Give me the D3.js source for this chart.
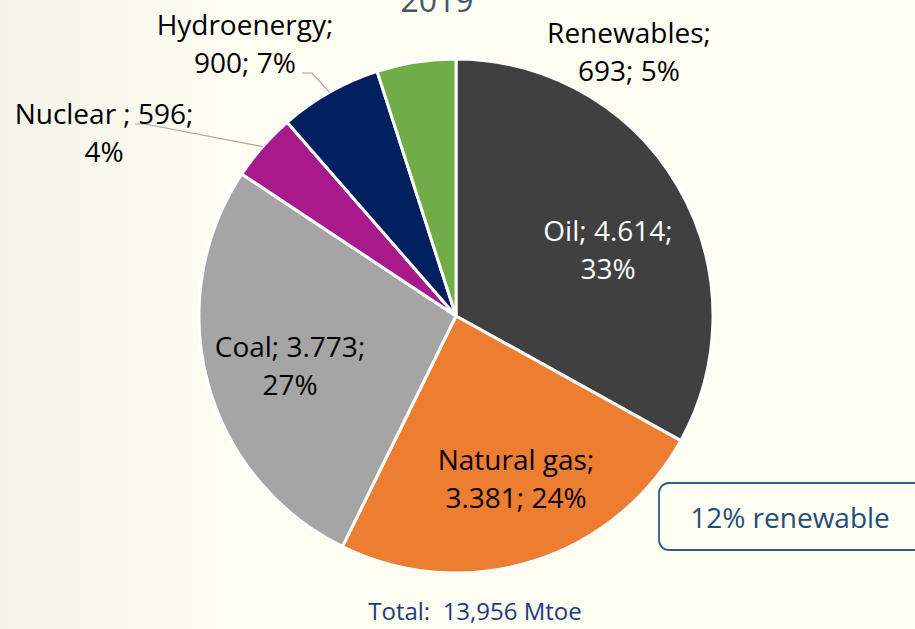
<!DOCTYPE html>
<html>
<head>
<meta charset="utf-8">
<script src="https://cdn.jsdelivr.net/npm/d3@7"></script>
<style>
  html, body { margin: 0; padding: 0; overflow: hidden; }
  text { font-family: "Open Sans", "Noto Sans", sans-serif; }
</style>
</head>
<body>
<div id="chart"></div>
<script>
// data (Mtoe, 2019)
var sources = ['Oil', 'Natural gas', 'Coal', 'Nuclear', 'Hydroenergy', 'Renewables'];
var values = [4614, 3381, 3773, 596, 900, 693];
var labelLines = [
  ['Oil; 4.614;', '33%'],
  ['Natural gas;', '3.381; 24%'],
  ['Coal; 3.773;', '27%'],
  ['Nuclear ; 596;', '4%'],
  ['Hydroenergy;', '900; 7%'],
  ['Renewables;', '693; 5%']
];
var colors = ['#404040', '#ed7d31', '#a5a5a5', '#a8198c', '#002060', '#70ad47'];
var title = '2019';
var totalText = 'Total:  13,956 Mtoe';
var boxText = '12% renewable';

var width = 915, height = 629;
var cx = 456, cy = 316, radius = 257;

var svg = d3.select("#chart")
.append("svg")
  .attr("width", width)
  .attr("height", height);

// background, slightly greyer at the left edge
var grad = svg.append("defs").append("linearGradient")
  .attr("id", "bg").attr("x1", 0).attr("x2", 1).attr("y1", 0).attr("y2", 0);
grad.append("stop").attr("offset", "0%").attr("stop-color", "#f3f3e9");
grad.append("stop").attr("offset", "25%").attr("stop-color", "#fdfdf1");
grad.append("stop").attr("offset", "100%").attr("stop-color", "#fdfdf1");
svg.append("rect").attr("width", width).attr("height", height).attr("fill", "url(#bg)");

// title, cut off by the top edge like in the source slide
svg.append("text")
  .attr("x", 437).attr("y", 12)
  .attr("text-anchor", "middle")
  .style("font-size", "32px")
  .style("fill", "#44546a")
  .text(title);

var pie = d3.pie().sort(null).value(function(d) { return d; });
var arcs = pie(values);
var arc = d3.arc().innerRadius(0).outerRadius(radius);

var g = svg.append("g").attr("transform", "translate(" + cx + "," + cy + ")");

g.selectAll("path")
  .data(arcs)
  .enter()
  .append("path")
  .attr("d", arc)
  .style("fill", function(d, i) { return colors[i]; })
  .style("stroke", "#ffffff")
  .style("stroke-width", 3)
  .style("stroke-linejoin", "round");

// label anchor points (centre x, first baseline), relative to the page
var labelPos = [
  [608, 241],
  [516, 470],
  [290, 357],
  [104, 124],
  [245, 35],
  [629, 43]
];
var lineH = 38;

// leader lines for the two small slices on the left
function edgePoint(d) {
  var a = (d.startAngle + d.endAngle) / 2;
  return [cx + radius * Math.sin(a), cy - radius * Math.cos(a)];
}
var leaders = [
  { i: 3, pts: [[135, 124], [145, 124]] },
  { i: 4, pts: [[302, 73], [312, 73]] }
];
leaders.forEach(function(l) {
  var pts = l.pts.concat([edgePoint(arcs[l.i])]);
  svg.append("path")
    .attr("d", d3.line()(pts))
    .style("fill", "none")
    .style("stroke", "#a6a6a6")
    .style("stroke-width", 1.2);
});

labelLines.forEach(function(lines, i) {
  var p = labelPos[i];
  var t = svg.append("text")
    .attr("text-anchor", "middle")
    .style("font-size", "28px")
    .style("fill", i == 0 ? "#ffffff" : "#000000");
  lines.forEach(function(s, k) {
    t.append("tspan")
      .attr("x", p[0])
      .attr("y", p[1] + k * lineH)
      .text(s);
  });
});

// "12% renewable" callout box
svg.append("rect")
  .attr("x", 659).attr("y", 483)
  .attr("width", 280).attr("height", 67)
  .attr("rx", 10).attr("ry", 10)
  .style("fill", "none")
  .style("stroke", "#2e5d8c")
  .style("stroke-width", 1.8);
svg.append("text")
  .attr("x", 790).attr("y", 528)
  .attr("text-anchor", "middle")
  .style("font-size", "28px")
  .style("fill", "#1f4e79")
  .text(boxText);

svg.append("text")
  .attr("x", 475).attr("y", 620)
  .attr("text-anchor", "middle")
  .style("font-size", "24px")
  .style("white-space", "pre")
  .style("fill", "#1f3a80")
  .text(totalText);
</script>
</body>
</html>
